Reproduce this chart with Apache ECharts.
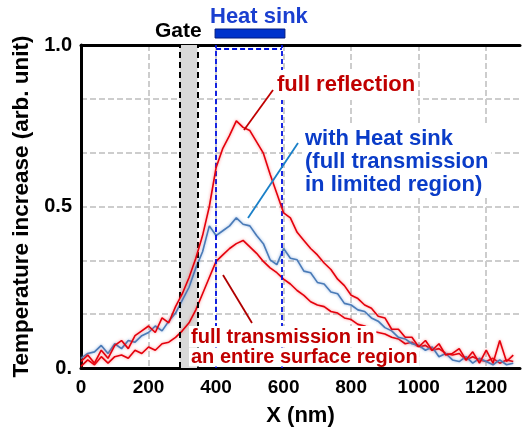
<!DOCTYPE html>
<html lang="en" style="height: 100%">
<head>
  <meta charset="utf-8">
</head>
<body style="height: 100%; margin: 0; background: #fff">
  <div id="container" style="width: 523px; height: 432px"></div>
  <script type="text/javascript" src="https://fastly.jsdelivr.net/npm/echarts@6.0.0/dist/echarts.min.js"></script>
  <script type="text/javascript">
    // X positions (nm)
    var xNm = [0, 20, 40, 60, 80, 100, 120, 140, 160, 180, 200, 220, 240, 260, 280, 300, 320, 340, 360, 380,
      400, 420, 440, 460, 480, 500, 520, 540, 560, 580, 600, 620, 640, 660, 680, 700, 720, 740, 760, 780,
      800, 820, 840, 860, 880, 900, 920, 940, 960, 980, 1000, 1020, 1040, 1060, 1080, 1100, 1120, 1140, 1160, 1180,
      1200, 1220, 1240, 1260, 1280];

    // full reflection
    var reflection = [0.02, 0.04, 0.015, 0.055, 0.03, 0.07, 0.085, 0.06, 0.10, 0.115, 0.13, 0.11, 0.155, 0.14, 0.19, 0.23, 0.28, 0.34, 0.41, 0.50,
      0.62, 0.68, 0.72, 0.765, 0.745, 0.735, 0.70, 0.665, 0.60, 0.54, 0.48, 0.465, 0.42, 0.395, 0.37, 0.35, 0.325, 0.305, 0.275, 0.255,
      0.225, 0.215, 0.195, 0.185, 0.16, 0.155, 0.12, 0.12, 0.095, 0.095, 0.065, 0.085, 0.055, 0.075, 0.04, 0.045, 0.06, 0.025, 0.05, 0.015,
      0.055, 0.015, 0.085, 0.02, 0.04];

    // with heat sink
    var heatSink = [0.03, 0.045, 0.05, 0.07, 0.045, 0.075, 0.06, 0.085, 0.08, 0.10, 0.11, 0.13, 0.115, 0.145, 0.17, 0.21, 0.25, 0.31, 0.36, 0.44,
      0.41, 0.425, 0.44, 0.465, 0.445, 0.44, 0.41, 0.385, 0.335, 0.32, 0.37, 0.34, 0.335, 0.30, 0.295, 0.265, 0.26, 0.235, 0.23, 0.20,
      0.195, 0.18, 0.175, 0.155, 0.145, 0.125, 0.115, 0.095, 0.09, 0.075, 0.07, 0.055, 0.065, 0.035, 0.045, 0.025, 0.02, 0.035, 0.015, 0.03,
      0.02, 0.01, 0.025, 0.01, 0.015];

    // full transmission in an entire surface region
    var transmission = [0.005, 0.025, 0.01, 0.035, 0.015, 0.035, 0.04, 0.03, 0.055, 0.045, 0.065, 0.055, 0.075, 0.08, 0.095, 0.115, 0.14, 0.18, 0.23, 0.28,
      0.33, 0.35, 0.37, 0.385, 0.395, 0.375, 0.355, 0.33, 0.31, 0.295, 0.275, 0.26, 0.24, 0.225, 0.205, 0.195, 0.19, 0.175, 0.17, 0.155,
      0.15, 0.135, 0.13, 0.115, 0.11, 0.105, 0.095, 0.09, 0.075, 0.08, 0.065, 0.07, 0.055, 0.06, 0.045, 0.04, 0.045, 0.025, 0.035, 0.025,
      0.02, 0.03, 0.015, 0.025, 0.02];

    var gateRange = [292, 345];
    var sinkRange = [400, 595];

    function pairs(ys) {
      return xNm.map(function (x, i) { return [x, ys[i]]; });
    }

    var font = 'Liberation Sans';
    var dom = document.getElementById('container');
    var myChart = echarts.init(dom, null, { renderer: 'canvas' });

    var gridLine = { show: true, showMinLine: false, showMaxLine: false,
      lineStyle: { color: '#cdcdcd', width: 2, type: [6, 3] } };
    var frame = { show: true, lineStyle: { color: '#000', width: 3 } };

    var option = {
      animation: false,
      backgroundColor: '#fff',
      grid: { left: 81, top: 45, right: -3, bottom: 61 },
      xAxis: [{
        type: 'value', min: 0, max: 1300, interval: 200,
        name: 'X (nm)', nameLocation: 'middle', nameGap: 37,
        nameTextStyle: { fontFamily: font, fontWeight: 'bold', fontSize: 22, color: '#000' },
        axisLine: frame, axisTick: { show: false },
        axisLabel: {
          margin: 10, fontFamily: font, fontWeight: 'bold', fontSize: 19, color: '#000',
          formatter: function (v) { return v % 200 === 0 && v <= 1200 ? String(v) : ''; }
        },
        splitLine: gridLine
      }, {
        type: 'value', position: 'top', min: 0, max: 1300,
        axisLine: frame, axisTick: { show: false }, axisLabel: { show: false }, splitLine: { show: false }
      }],
      yAxis: {
        type: 'value', min: 0, max: 1, interval: 1 / 6,
        name: 'Temperature increase (arb. unit)', nameLocation: 'middle', nameGap: 47, nameRotate: 90,
        nameTextStyle: { fontFamily: font, fontWeight: 'bold', fontSize: 22.5, color: '#000' },
        axisLine: frame, axisTick: { show: false },
        axisLabel: {
          margin: 9, fontFamily: font, fontWeight: 'bold', fontSize: 20, color: '#000',
          formatter: function (v) {
            if (Math.abs(v) < 1e-6) return '0.';
            if (Math.abs(v - 0.5) < 1e-6) return '0.5';
            if (Math.abs(v - 1) < 1e-6) return '1.0';
            return '';
          }
        },
        splitLine: gridLine
      },
      series: [
        {
          name: 'full transmission', type: 'line', showSymbol: false, z: 3,
          data: pairs(transmission),
          lineStyle: { color: '#e4000c', width: 1.6, shadowBlur: 3, shadowColor: 'rgba(255,60,60,0.6)' },
          markArea: {
            silent: true, z: 1,
            itemStyle: { color: '#d9d9d9' },
            data: [[{ xAxis: gateRange[0] }, { xAxis: gateRange[1] }]]
          },
          markLine: {
            silent: true, symbol: 'none', label: { show: false },
            data: [
              { xAxis: gateRange[0], lineStyle: { color: '#000', width: 2, type: [6, 4] } },
              { xAxis: gateRange[1], lineStyle: { color: '#000', width: 2, type: [6, 4] } },
              { xAxis: sinkRange[0], lineStyle: { color: '#0010e0', width: 1.8, type: [5, 3] } },
              { xAxis: sinkRange[1], lineStyle: { color: '#0010e0', width: 1.8, type: [5, 3] } }
            ]
          }
        },
        {
          name: 'with Heat sink', type: 'line', showSymbol: false, z: 4,
          data: pairs(heatSink),
          lineStyle: { color: '#4a7bb7', width: 1.6, shadowBlur: 3, shadowColor: 'rgba(120,160,220,0.8)' }
        },
        {
          name: 'full reflection', type: 'line', showSymbol: false, z: 5,
          data: pairs(reflection),
          lineStyle: { color: '#e4000c', width: 1.6, shadowBlur: 3, shadowColor: 'rgba(255,60,60,0.6)' }
        }
      ]
    };
    myChart.setOption(option);

    // annotations placed from the axis scale
    var s0 = myChart.convertToPixel({ gridIndex: 0 }, [sinkRange[0], 1]);
    var s1 = myChart.convertToPixel({ gridIndex: 0 }, [sinkRange[1], 1]);
    var txt = function (x, y, text, color, size, lh, bg) {
      var style = { text: text, fill: color, font: 'bold ' + size + 'px "Liberation Sans"', lineHeight: lh || size };
      if (bg) { style.backgroundColor = '#fff'; style.padding = bg; }
      return { type: 'text', left: x, top: y, z: 50, style: style };
    };
    var seg = function (x1, y1, x2, y2, color) {
      return { type: 'line', z: 40, shape: { x1: x1, y1: y1, x2: x2, y2: y2 }, style: { stroke: color, lineWidth: 1.8 } };
    };
    myChart.setOption({
      graphic: [
        { type: 'rect', z: 50, shape: { x: s0[0] - 1, y: 29, width: s1[0] - s0[0] + 4, height: 9 },
          style: { fill: '#0033cc', stroke: '#001a80', lineWidth: 1 } },
        { type: 'line', z: 50, shape: { x1: s0[0], y1: 49, x2: s1[0], y2: 49 },
          style: { stroke: '#0010e0', lineWidth: 1.8, lineDash: [5, 3] } },
        txt(155, 21, 'Gate', '#000', 21),
        txt(210, 6, 'Heat sink', '#1a3fd0', 22),
        txt(275, 70, 'full reflection', '#c00000', 22, 22, [4, 2, 4, 2]),
        txt(302, 125, 'with Heat sink\n(full transmission\nin limited region)', '#0a3cc8', 22, 23, [2, 3, 2, 3]),
        txt(189, 326, 'full transmission in', '#c00000', 20, 19, [2, 2, 0, 2]),
        txt(189, 347, 'an entire surface region', '#c00000', 20, 19, [0, 2, 0, 2]),
        seg(273, 90, 244, 130, '#c00000'),
        seg(298, 143, 248, 218, '#1a80c8'),
        seg(223, 275, 252, 323, '#b00000')
      ]
    });

    window.addEventListener('resize', myChart.resize);
  </script>
</body>
</html>
